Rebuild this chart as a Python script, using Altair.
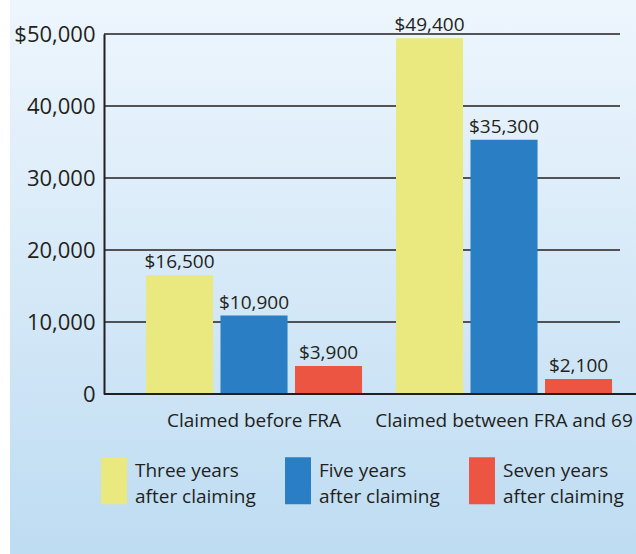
import altair as alt
import pandas as pd

groups = ["Claimed before FRA", "Claimed between FRA and 69"]
series = ["Three years after claiming", "Five years after claiming", "Seven years after claiming"]
values_before = [16500, 10900, 3900]
values_between = [49400, 35300, 2100]
colors = ["#e9e97f", "#2a7fc4", "#ec5541"]
y_ticks = [0, 10000, 20000, 30000, 40000, 50000]

rows = []
for g, vals in zip(groups, [values_before, values_between]):
    for s, v in zip(series, vals):
        rows.append({"group": g, "series": s, "value": v})
df = pd.DataFrame(rows)

FONT = "Open Sans"
INK = "#231f20"
W, H = 516, 360

x_enc = alt.X("group:N", sort=groups,
              scale=alt.Scale(paddingInner=0.1, paddingOuter=0.082, align=0.915),
              axis=alt.Axis(title=None, domain=False, ticks=False, labelAngle=0,
                            labelFontSize=19, labelFont=FONT, labelColor=INK,
                            labelPadding=17, labelLimit=400, labelOverlap=False,
                            zindex=1))
xoff_enc = alt.XOffset("series:N", sort=series,
                       scale=alt.Scale(paddingInner=0.1, paddingOuter=0.06))
y_scale = alt.Scale(domain=[0, 50000], nice=False)

bg = alt.Chart(alt.Data(values=[{}])).mark_rect(
    fill=alt.Gradient(gradient="linear",
                      stops=[alt.GradientStop(color="#eef6fd", offset=0),
                             alt.GradientStop(color="#bedcf2", offset=1)],
                      x1=0, x2=0, y1=0, y2=1)
).encode(x=alt.value(-94), x2=alt.value(532), y=alt.value(-34), y2=alt.value(520))

grid = alt.Chart(pd.DataFrame({"t": y_ticks[1:]})).mark_rule(
    color=INK, strokeWidth=1.6
).encode(y=alt.Y("t:Q", scale=y_scale), x=alt.value(0), x2=alt.value(W))

bars = alt.Chart(df).mark_bar().encode(
    x=x_enc,
    xOffset=xoff_enc,
    y=alt.Y("value:Q", scale=y_scale,
            axis=alt.Axis(title=None, values=y_ticks, grid=False, ticks=False,
                          domain=True, domainColor=INK, domainWidth=2,
                          labelFontSize=22, labelFont=FONT, labelColor=INK,
                          labelPadding=9, zindex=1,
                          labelExpr="datum.value == 50000 ? '$50,000' : format(datum.value, ',')")),
    color=alt.Color("series:N", sort=series,
                    scale=alt.Scale(domain=series, range=colors),
                    legend=alt.Legend(orient="none", legendX=-24, legendY=423,
                                      direction="horizontal", columns=3, title=None,
                                      symbolType="M-0.106,-1H1V1H-0.106Z",
                                      symbolSize=2209, symbolStrokeWidth=0,
                                      labelFontSize=19, labelFont=FONT, labelColor=INK,
                                      labelOffset=8, columnPadding=8, padding=0,
                                      labelLimit=300,
                                      labelExpr="[replace(datum.label, ' after claiming', ''), 'after claiming']")),
)

labels = alt.Chart(df).transform_calculate(
    label="'$' + format(datum.value, ',')"
).mark_text(baseline="alphabetic", dy=-7, fontSize=19, font=FONT, color=INK).encode(
    x=x_enc, xOffset=xoff_enc,
    y=alt.Y("value:Q", scale=y_scale),
    text="label:N",
)

base = alt.Chart(alt.Data(values=[{"z": 0}])).mark_rule(color=INK, strokeWidth=2).encode(
    y=alt.Y("z:Q", scale=y_scale), x=alt.value(0), x2=alt.value(532)
)

chart = alt.layer(bg, grid, bars, labels, base).properties(
    width=W, height=H,
    autosize=alt.AutoSizeParams(type="none"),
    padding={"left": 104, "top": 34, "right": 16, "bottom": 160},
    background="white",
).configure_view(stroke=None)

chart.save("out.html", embed_options={
    "renderer": "svg", "actions": False,
    "patch": [{"op": "add", "path": "/legends/0/encode/labels/update/lineHeight",
               "value": {"value": 26}},
              {"op": "add", "path": "/legends/0/encode/labels/update/dy",
               "value": {"value": -10}}],
})
